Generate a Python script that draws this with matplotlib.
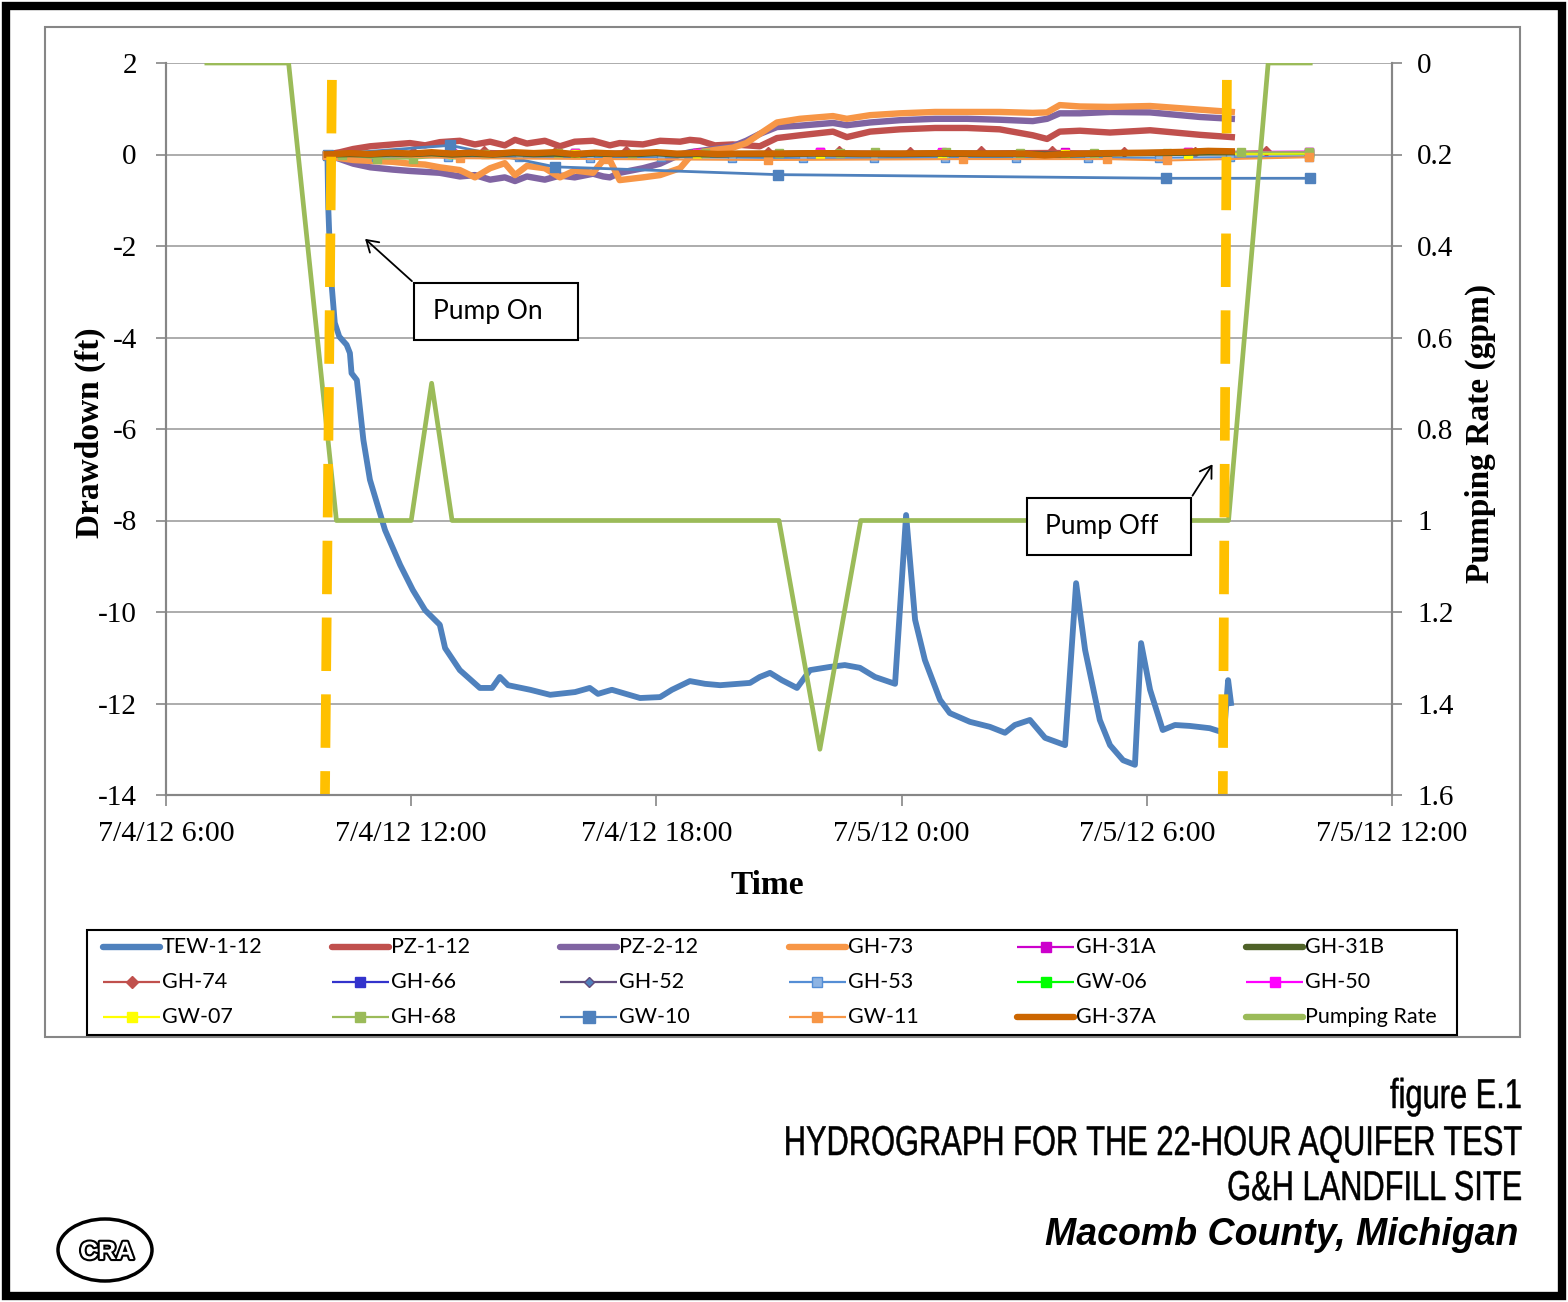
import numpy as np
import matplotlib
matplotlib.use("Agg")
import matplotlib.pyplot as plt
import matplotlib.patches as mpatches
import matplotlib.dates as mdates
import matplotlib.patheffects as pe
from matplotlib.lines import Line2D
from matplotlib.transforms import Affine2D
from matplotlib.ticker import FuncFormatter

plt.rcParams["axes.unicode_minus"] = False

W, H = 1568, 1302

# ── Data (times in hours after 7/4/12 0:00) ──────────────────────────
T_TEW = [9.95, 9.97, 10.03, 10.13, 10.24, 10.42, 10.50, 10.54, 10.67, 10.83,
         10.99, 11.36, 11.73, 12.04, 12.34, 12.70, 12.83, 13.19, 13.68, 13.98,
         14.17, 14.37, 14.91, 15.40, 16.01, 16.37, 16.57, 16.91, 17.60, 18.09,
         18.38, 18.82, 19.19, 19.56, 20.29, 20.53, 20.78, 21.07, 21.44, 21.76,
         22.25, 22.61, 22.98, 23.35, 23.84, 24.11, 24.33, 24.57, 24.94, 25.18,
         25.67, 26.16, 26.53, 26.77, 27.14, 27.51, 28.00, 28.27, 28.49, 28.85,
         29.10, 29.42, 29.71, 29.86, 30.08, 30.39, 30.69, 31.05, 31.54, 31.89,
         31.99, 32.06]
V_TEW = [0.0, -1.14, -2.6, -3.68, -3.98, -4.16, -4.34, -4.78, -4.93, -6.24,
         -7.11, -8.21, -8.97, -9.52, -9.96, -10.28, -10.79, -11.27, -11.66, -11.66,
         -11.42, -11.60, -11.70, -11.81, -11.75, -11.66, -11.79, -11.70, -11.88, -11.86,
         -11.70, -11.51, -11.57, -11.60, -11.55, -11.42, -11.33, -11.49, -11.66, -11.27,
         -11.20, -11.16, -11.22, -11.42, -11.57, -7.88, -10.17, -11.05, -11.92, -12.21,
         -12.40, -12.51, -12.64, -12.47, -12.36, -12.75, -12.91, -9.37, -10.83, -12.36,
         -12.91, -13.24, -13.34, -10.68, -11.70, -12.58, -12.47, -12.49, -12.54, -12.64,
         -11.49, -11.99]

T_PZ = [9.94, 10.26, 10.58, 11.0, 11.55, 11.97, 12.34, 12.7, 13.19, 13.56,
        13.93, 14.29, 14.54, 14.83, 15.27, 15.64, 16.0, 16.45, 16.7, 16.86,
        17.1, 17.67, 18.09, 18.58, 18.82, 19.07, 19.43, 19.87, 20.2, 20.53,
        20.95, 21.51, 22.32, 22.66, 23.23, 23.96, 24.82, 25.6, 26.4, 27.21,
        27.56, 27.87, 28.36, 29.1, 30.08, 31.3, 32.08]
V_PZ1 = [0.0, 0.05, 0.12, 0.18, 0.22, 0.25, 0.20, 0.27, 0.30, 0.22,
         0.28, 0.20, 0.32, 0.24, 0.30, 0.18, 0.28, 0.30, 0.24, 0.20,
         0.25, 0.22, 0.30, 0.28, 0.32, 0.30, 0.20, 0.22, 0.20, 0.18,
         0.36, 0.42, 0.50, 0.38, 0.50, 0.55, 0.58, 0.58, 0.55, 0.42,
         0.34, 0.50, 0.52, 0.48, 0.53, 0.43, 0.38]
V_PZ2 = [0.0, -0.10, -0.20, -0.28, -0.33, -0.36, -0.38, -0.40, -0.48, -0.45,
         -0.55, -0.50, -0.58, -0.48, -0.55, -0.46, -0.50, -0.42, -0.48, -0.50,
         -0.40, -0.30, -0.20, 0.0, 0.05, 0.08, 0.12, 0.18, 0.30, 0.45,
         0.60, 0.63, 0.69, 0.64, 0.70, 0.75, 0.78, 0.78, 0.76, 0.73,
         0.78, 0.90, 0.90, 0.93, 0.92, 0.82, 0.78]
V_GH73 = [-0.05, -0.08, -0.12, -0.14, -0.16, -0.20, -0.22, -0.28, -0.34, -0.50,
          -0.30, -0.19, -0.45, -0.25, -0.30, -0.50, -0.35, -0.40, -0.12, -0.12,
          -0.56, -0.50, -0.45, -0.30, -0.05, 0.05, 0.10, 0.15, 0.25, 0.45,
          0.70, 0.78, 0.84, 0.78, 0.86, 0.90, 0.93, 0.93, 0.93, 0.91,
          0.92, 1.08, 1.05, 1.04, 1.06, 0.98, 0.93]

T_37A = [9.94, 10.5, 11.0, 11.5, 12.0, 12.5, 13.0, 13.5, 14.0, 14.5,
         15.0, 15.5, 16.0, 16.5, 17.0, 17.5, 18.0, 18.5, 19.0, 19.5,
         20.0, 21.0, 22.0, 23.0, 24.0, 25.0, 26.0, 27.0, 27.5, 28.0,
         29.0, 30.0, 31.0, 31.5, 32.08]
V_37A = [0.0, 0.03, 0.01, 0.04, 0.02, 0.05, 0.02, 0.04, 0.01, 0.05,
         0.03, 0.05, 0.01, 0.04, 0.02, 0.03, 0.05, 0.02, 0.03, 0.01,
         0.02, 0.02, 0.03, 0.02, 0.02, 0.03, 0.02, 0.02, -0.02, 0.01,
         0.03, 0.04, 0.06, 0.08, 0.07]
V_31B = [0.0, 0.01, 0.0, 0.02, 0.01, 0.03, 0.0, 0.02, 0.0, 0.03,
         0.01, 0.02, 0.0, 0.02, 0.01, 0.01, 0.03, 0.0, 0.01, 0.0,
         0.01, 0.01, 0.02, 0.01, 0.01, 0.02, 0.01, 0.01, 0.0, 0.0,
         0.02, 0.03, 0.04, 0.05, 0.05]

T_GH74 = [10.30, 12.04, 13.78, 15.52, 17.25, 18.99, 20.73, 22.47, 24.21, 25.95,
          27.69, 29.43, 31.17, 32.91]
V_GH74 = [0.02, 0.06, 0.08, 0.05, 0.07, 0.04, 0.06, 0.07, 0.06, 0.07,
          0.08, 0.06, 0.05, 0.07]

T_GH53 = [9.96, 11.15, 12.89, 14.63, 16.37, 18.11, 19.85, 21.59, 23.33, 25.07,
          26.81, 28.55, 30.29, 32.03, 33.98]
V_GH53 = [0.0, -0.05, -0.06, -0.05, -0.07, -0.06, -0.07, -0.08, -0.08, -0.07,
          -0.08, -0.08, -0.07, -0.06, -0.05]

T_GW11 = [9.94, 13.2, 16.8, 20.73, 25.5, 29.02, 30.5, 33.97]
V_GW11 = [0.0, -0.08, -0.10, -0.12, -0.10, -0.10, -0.13, -0.06]

T_GH68 = [10.3, 11.16, 12.04, 13.8, 15.6, 17.4, 19.2, 21.0, 22.5, 23.35,
          25.09, 26.9, 28.7, 30.5, 32.3, 33.98]
V_GH68 = [0.0, -0.09, -0.09, 0.02, 0.03, 0.02, 0.03, 0.04, 0.03, 0.05,
          0.05, 0.04, 0.03, 0.04, 0.05, 0.05]

T_GW10 = [9.96, 12.95, 15.52, 20.97, 30.47, 33.99]
V_GW10 = [0.0, 0.20, -0.27, -0.44, -0.52, -0.52]

T_MINOR = [9.95, 13.0, 16.0, 19.0, 22.0, 25.0, 28.0, 31.0, 33.98]
V_GH31A = [0.0, 0.03, 0.04, 0.03, 0.05, 0.04, 0.05, 0.05, 0.06]
V_GH66 = [0.0, 0.02, 0.01, 0.02, 0.02, 0.03, 0.02, 0.03, 0.03]
V_GH52 = [0.0, 0.01, 0.02, 0.01, 0.02, 0.02, 0.01, 0.02, 0.02]
V_GW06 = [0.0, 0.02, 0.03, 0.02, 0.03, 0.03, 0.02, 0.03, 0.02]
V_GH50 = [0.0, 0.03, 0.04, 0.04, 0.05, 0.05, 0.04, 0.05, 0.06]
V_GW07 = [0.0, 0.01, 0.02, 0.02, 0.01, 0.02, 0.02, 0.01, 0.02]

T_PUMP = [7.0, 9.0, 10.17, 12.0, 12.5, 13.0, 21.0, 22.0, 23.0, 32.0, 32.97, 34.0]
V_PUMP = [0.0, 0.0, 1.0, 1.0, 0.7, 1.0, 1.0, 1.5, 1.0, 1.0, 0.0, 0.0]

LEGEND_ORDER = ["TEW-1-12", "PZ-1-12", "PZ-2-12", "GH-73", "GH-31A", "GH-31B",
                "GH-74", "GH-66", "GH-52", "GH-53", "GW-06", "GH-50",
                "GW-07", "GH-68", "GW-10", "GW-11", "GH-37A", "Pumping Rate"]

BASE = np.datetime64("2012-07-04T00:00")


def dt(hours):
    return BASE + (np.asarray(hours, dtype=float) * 3600).astype("timedelta64[s]")


def fx(x):
    return x / W


def fy(y):
    return 1 - y / H


class Condense(pe.AbstractPathEffect):
    """Squeeze glyphs horizontally about a pivot (condensed face stand-in)."""

    def __init__(self, sx, pivot, stroke=0.0):
        super().__init__()
        self.sx = sx
        self.pivot = pivot
        self.stroke = stroke

    def draw_path(self, renderer, gc, tpath, affine, rgbFace=None):
        a = affine + Affine2D().translate(-self.pivot, 0).scale(self.sx, 1) \
            .translate(self.pivot, 0)
        gc0 = renderer.new_gc()
        gc0.copy_properties(gc)
        gc0.set_linewidth(self.stroke)
        gc0.set_joinstyle("round")
        renderer.draw_path(gc0, tpath, a, rgbFace)
        gc0.restore()


def main():
    fig = plt.figure(figsize=(W / 100, H / 100), dpi=100)
    fig.patch.set_facecolor("white")

    ax = fig.add_axes([fx(166), fy(795), 1226 / W, 732 / H])
    ax2 = ax.twinx()

    serif = "Liberation Serif"
    sans = "Lato"
    THICK = 4.6

    # ── main series ─────────────────────────────────────────────────
    lines = {}
    lines["TEW-1-12"], = ax.plot(dt(T_TEW), V_TEW, color="#4F81BD", lw=4.2,
                                 solid_joinstyle="round")
    lines["PZ-1-12"], = ax.plot(dt(T_PZ), V_PZ1, color="#C0504D", lw=THICK)
    lines["PZ-2-12"], = ax.plot(dt(T_PZ), V_PZ2, color="#8064A2", lw=THICK)
    lines["GH-73"], = ax.plot(dt(T_PZ), V_GH73, color="#F79646", lw=THICK)

    mk = dict(lw=1.5, marker="s", ms=6)
    lines["GH-31A"], = ax.plot(dt(T_MINOR), V_GH31A, color="#CC00CC", **mk)
    lines["GH-74"], = ax.plot(dt(T_GH74), V_GH74, color="#C0504D", lw=1.5,
                              marker="D", ms=5)
    lines["GH-66"], = ax.plot(dt(T_MINOR), V_GH66, color="#3333CC", **mk)
    lines["GH-52"], = ax.plot(dt(T_MINOR), V_GH52, color="#604A7B", lw=1.5,
                              marker="D", ms=4, mfc="#4F81BD")
    lines["GH-53"], = ax.plot(dt(T_GH53), V_GH53, color="#558ED5", lw=1.5,
                              marker="s", ms=6, mfc="#8EB4E3")
    lines["GW-06"], = ax.plot(dt(T_MINOR), V_GW06, color="#00FF00", **mk)
    lines["GH-50"], = ax.plot(dt(T_MINOR), V_GH50, color="#FF00FF", **mk)
    lines["GW-07"], = ax.plot(dt(T_MINOR), V_GW07, color="#FFFF00", **mk)
    lines["GH-68"], = ax.plot(dt(T_GH68), V_GH68, color="#9BBB59", **mk)
    lines["GW-10"], = ax.plot(dt(T_GW10), V_GW10, color="#4F81BD", lw=2.0,
                              marker="s", ms=7)
    lines["GW-11"], = ax.plot(dt(T_GW11), V_GW11, color="#F79646", **mk)
    lines["GH-31B"], = ax.plot(dt(T_37A), V_31B, color="#4F6228", lw=THICK)
    lines["GH-37A"], = ax.plot(dt(T_37A), V_37A, color="#CC6600", lw=THICK)

    lines["Pumping Rate"], = ax2.plot(dt(T_PUMP), V_PUMP, color="#9BBB59", lw=3.4)

    # pump on / off markers (yellow dashed)
    for top, bot in [(10.06, 9.89), (31.96, 31.86)]:
        ax2.plot(dt([top, bot]), [1.63, -14], transform=ax.transData,
                 color="#FFC000", lw=7, dashes=(5.5, 2.4), solid_capstyle="butt")

    # ── axes ────────────────────────────────────────────────────────
    ax.set_xlim(dt(6.0), dt(36.0))
    ax.set_ylim(-14, 2)
    ax.set_yticks(range(-14, 3, 2))
    ax2.set_ylim(1.6, 0)
    ax2.set_yticks([0, 0.2, 0.4, 0.6, 0.8, 1.0, 1.2, 1.4, 1.6])
    ax2.yaxis.set_major_formatter(FuncFormatter(lambda v, p: f"{v:g}"))

    ax.xaxis.set_major_locator(mdates.HourLocator(byhour=[0, 6, 12, 18]))

    def fmt_date(v, p):
        d = mdates.num2date(v)
        return f"{d.month}/{d.day}/{d:%y} {d.hour}:{d:%M}"

    ax.xaxis.set_major_formatter(FuncFormatter(fmt_date))

    ax.grid(axis="y", color="#A6A6A6", lw=1.3, zorder=0)
    ax.set_axisbelow(True)
    for a in (ax, ax2):
        a.spines["top"].set_visible(False)
        for s in ("left", "right", "bottom"):
            a.spines[s].set_color("#868686")
            a.spines[s].set_linewidth(1.5)
    ax.tick_params(axis="y", direction="out", length=7, width=1.2, color="#868686",
                   pad=14, labelsize=21)
    ax.tick_params(axis="x", direction="out", length=8, width=1.2, color="#868686",
                   pad=11, labelsize=21.5)
    ax2.tick_params(axis="y", direction="out", length=7, width=1.2, color="#868686",
                    pad=11, labelsize=21)
    for lab in ax.get_xticklabels() + ax.get_yticklabels() + ax2.get_yticklabels():
        lab.set_fontfamily(serif)

    fig.text(fx(90), fy(433), "Drawdown (ft)", rotation=90, ha="center", va="center",
             fontsize=24, fontweight="bold", family=serif)
    fig.text(fx(1480), fy(433), "Pumping Rate (gpm)", rotation=90, ha="center",
             va="center", fontsize=24, fontweight="bold", family=serif)
    fig.text(fx(767), fy(885), "Time", ha="center", va="center",
             fontsize=24, fontweight="bold", family=serif)

    # ── callouts ───────────────────────────────────────────────────
    for (x0, y0, x1, y1, label, tx_c, ax_, ay_, tx, ty) in [
        (414, 283, 578, 340, "Pump On", 488, 414, 283, 363, 237),
        (1027, 498, 1191, 555, "Pump Off", 1102, 1191, 498, 1214, 462),
    ]:
        fig.patches.append(mpatches.Rectangle(
            (fx(x0), fy(y1)), (x1 - x0) / W, (y1 - y0) / H,
            transform=fig.transFigure, fc="white", ec="black", lw=1.5, zorder=10))
        fig.text(fx(tx_c), fy((y0 + y1) / 2), label, ha="center",
                 va="center", fontsize=19, family=sans, zorder=11)
        fig.add_artist(mpatches.FancyArrowPatch(
            (fx(ax_), fy(ay_)), (fx(tx), fy(ty)), transform=fig.transFigure,
            arrowstyle="->,head_length=8,head_width=5", color="black", lw=1.3,
            zorder=11))

    # ── legend (drawn as a grid, row-major like the source) ────────
    fig.patches.append(mpatches.Rectangle(
        (fx(87), fy(1035)), (1457 - 87) / W, (1035 - 930) / H,
        transform=fig.transFigure, fc="white", ec="black", lw=1.5, zorder=5))
    for i, name in enumerate(LEGEND_ORDER):
        r, c = divmod(i, 6)
        x0 = 103 + 228.6 * c
        yc = 947 + 35 * r
        src = lines[name]
        thick = src.get_linewidth() > 2.5
        h = Line2D([fx(x0), fx(x0 + 57)], [fy(yc), fy(yc)], transform=fig.transFigure,
                   color=src.get_color(), lw=4.6 if thick else 1.6,
                   solid_capstyle="round" if thick else "butt", zorder=6)
        fig.add_artist(h)
        if src.get_marker() not in (None, "None", ""):
            fig.add_artist(Line2D([fx(x0 + 28.5)], [fy(yc)], transform=fig.transFigure,
                                  ls="none", marker=src.get_marker(),
                                  ms=src.get_markersize() + 1,
                                  mfc=src.get_markerfacecolor(),
                                  mec=src.get_markeredgecolor(), zorder=7))
        fig.text(fx(x0 + 59), fy(yc), name, ha="left", va="center",
                 fontsize=15.5, family=sans, zorder=7)

    # ── frames ─────────────────────────────────────────────────────
    fig.patches.append(mpatches.Rectangle(
        (fx(45), fy(1037)), (1520 - 45) / W, (1037 - 27) / H,
        transform=fig.transFigure, fill=False, ec="#868686", lw=1.5, zorder=0))
    fig.patches.append(mpatches.Rectangle(
        (fx(6), fy(1296)), (1562 - 6) / W, (1296 - 6) / H,
        transform=fig.transFigure, fill=False, ec="black", lw=6, zorder=20))

    # ── title block ────────────────────────────────────────────────
    title_lines = [("figure E.1", 1108), ("HYDROGRAPH FOR THE 22-HOUR AQUIFER TEST", 1155),
                   ("G&H LANDFILL SITE", 1200)]
    titles = [fig.text(fx(1522), fy(yb), s, ha="right", va="baseline",
                       fontsize=30, family="Liberation Sans")
              for s, yb in title_lines]
    renderer = fig.canvas.get_renderer()
    sx = 738 / titles[1].get_window_extent(renderer).width
    for t in titles:
        t.set_path_effects([Condense(sx, 1521, stroke=0.35)])

    fig.text(fx(1518), fy(1245), "Macomb County, Michigan", ha="right",
             va="baseline", fontsize=27, fontweight="bold", fontstyle="italic",
             family="Liberation Sans")

    # ── logo ───────────────────────────────────────────────────────
    fig.patches.append(mpatches.Ellipse(
        (fx(105), fy(1250)), 94 / W, 62 / H, angle=0, transform=fig.transFigure,
        fill=False, ec="black", lw=2.5))
    t = fig.text(fx(107), fy(1252), "CRA", ha="center", va="center", fontsize=18,
                 fontweight="bold", family="Liberation Sans", color="white")
    t.set_path_effects([pe.withStroke(linewidth=3, foreground="black")])

    fig.savefig("out.png", dpi=100, facecolor="white")
    plt.close(fig)


if __name__ == "__main__":
    main()
